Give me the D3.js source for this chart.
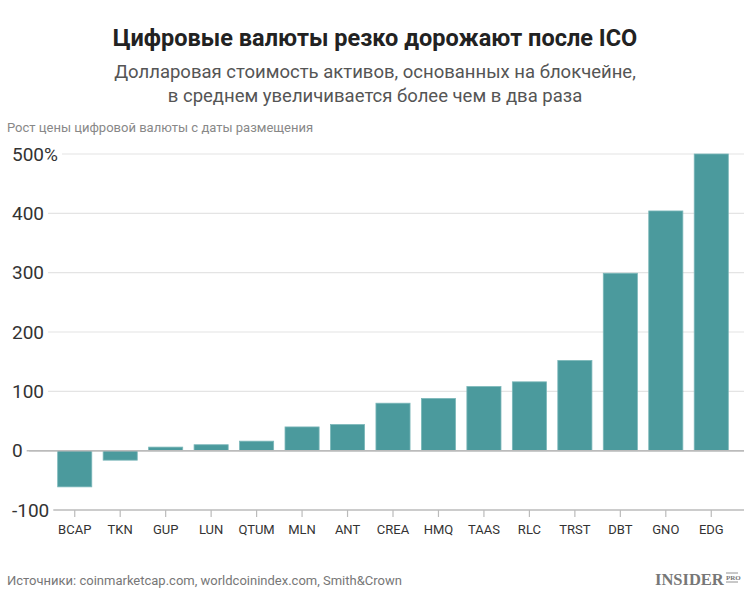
<!DOCTYPE html>
<html>
<head>
<meta charset="utf-8">
<script src="https://cdn.jsdelivr.net/npm/d3@7"></script>
<style>
  body { margin: 0; background: #fff; }
  text { font-family: Roboto, "Noto Sans", sans-serif; }
</style>
</head>
<body>
<div id="chart"></div>
<script>
const coins = ["BCAP", "TKN", "GUP", "LUN", "QTUM", "MLN", "ANT", "CREA", "HMQ", "TAAS", "RLC", "TRST", "DBT", "GNO", "EDG"];
const growth = [-61, -16, 6, 10, 16, 40, 44, 80, 88, 108, 116, 152, 299, 404, 500];
const yTicks = [-100, 0, 100, 200, 300, 400, 500];

const W = 750, H = 595;
const svg = d3.select("#chart").append("svg")
    .attr("width", W)
    .attr("height", H);

const x = d3.scaleBand()
    .domain(coins)
    .range([52, 734])
    .paddingInner(0.25)
    .paddingOuter(0.125);

const y = d3.scaleLinear()
    .domain([-100, 500])
    .range([510, 154]);

// titles
svg.append("text")
    .attr("x", W / 2).attr("y", 46)
    .attr("text-anchor", "middle")
    .style("font-size", "23.5px").style("font-weight", "bold").style("fill", "#222")
    .text("Цифровые валюты резко дорожают после ICO");

svg.append("text")
    .attr("x", W / 2).attr("y", 78)
    .attr("text-anchor", "middle")
    .style("font-size", "18.5px").style("fill", "#555")
    .text("Долларовая стоимость активов, основанных на блокчейне,");

svg.append("text")
    .attr("x", W / 2).attr("y", 102)
    .attr("text-anchor", "middle")
    .style("font-size", "18.5px").style("fill", "#555")
    .text("в среднем увеличивается более чем в два раза");

svg.append("text")
    .attr("x", 7).attr("y", 132)
    .style("font-size", "13px").style("fill", "#888")
    .text("Рост цены цифровой валюты с даты размещения");

// y gridlines with labels
const grid = svg.append("g");
yTicks.forEach(t => {
    const lbl = grid.append("text")
        .attr("x", 12).attr("y", y(t))
        .attr("dy", "0.35em")
        .style("font-size", "19px").style("fill", "#333")
        .text(t === 500 ? "500%" : t);
    const w = lbl.node().getComputedTextLength();
    grid.insert("line", "text")
        .attr("x1", 12 + w + 4).attr("x2", 744)
        .attr("y1", y(t)).attr("y2", y(t))
        .attr("stroke", t === 0 || t === -100 ? "#bbb" : "#e4e4e4")
        .attr("stroke-width", t === 0 || t === -100 ? 1.5 : 1.2);
});

// bars
svg.append("g").selectAll("rect")
    .data(coins.map((c, i) => ({ coin: c, value: growth[i] })))
    .enter().append("rect")
    .attr("x", d => x(d.coin))
    .attr("width", x.bandwidth())
    .attr("y", d => y(Math.max(0, d.value)))
    .attr("height", d => Math.abs(y(d.value) - y(0)))
    .attr("fill", "#4b9a9d")
    .attr("stroke", "#7bb7b9")
    .attr("stroke-width", 0.8);

// zero line above bars
svg.append("line")
    .attr("x1", 29).attr("x2", 744)
    .attr("y1", y(0)).attr("y2", y(0))
    .attr("stroke", "#bbb").attr("stroke-width", 1.5);

// x axis
const xAxis = svg.append("g")
    .attr("transform", `translate(0, ${y(-100)})`)
    .call(d3.axisBottom(x).tickSize(7).tickPadding(8));
xAxis.select(".domain").remove();
xAxis.selectAll(".tick line").attr("stroke", "#bbb").attr("stroke-width", 1.2);
xAxis.selectAll(".tick text")
    .style("font-size", "13px").style("fill", "#333")
    .style("font-family", "Roboto, sans-serif");

// footer
svg.append("text")
    .attr("x", 7).attr("y", 585)
    .style("font-size", "13px").style("fill", "#777")
    .text("Источники: coinmarketcap.com, worldcoinindex.com, Smith&Crown");

const logo = svg.append("g").attr("transform", "translate(655, 585)");
logo.append("text")
    .style("font-family", "'Liberation Serif', 'DejaVu Serif', serif")
    .style("font-size", "16.5px").style("font-weight", "bold").style("fill", "#777")
    .text("INSIDER");
logo.append("text")
    .attr("x", 71).attr("y", -5)
    .style("font-family", "'Liberation Serif', serif")
    .style("font-size", "7px").style("font-weight", "bold").style("fill", "#777")
    .text("PRO");
logo.append("line")
    .attr("x1", 71).attr("x2", 83).attr("y1", -12).attr("y2", -12)
    .attr("stroke", "#777").attr("stroke-width", 0.8);
logo.append("line")
    .attr("x1", 71).attr("x2", 83).attr("y1", -3).attr("y2", -3)
    .attr("stroke", "#777").attr("stroke-width", 0.8);
</script>
</body>
</html>
